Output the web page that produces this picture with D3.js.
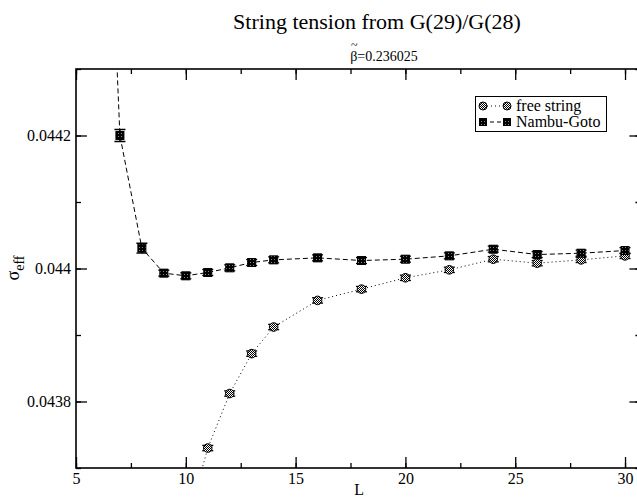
<!DOCTYPE html>
<html><head><meta charset="utf-8">
<script src="https://cdn.jsdelivr.net/npm/d3@7"></script>
</head><body style="margin:0">
<svg id="c" width="637" height="500"></svg>
<script>
const title = "String tension from G(29)/G(28)";
const subtitle = "=0.236025";
const xTicks = [5, 10, 15, 20, 25, 30];
const yTicks = [0.0438, 0.044, 0.0442];
const yTickLabels = ["0.0438", "0.044", "0.0442"];

const ngL   = [6, 7, 8, 9, 10, 11, 12, 13, 14, 16, 18, 20, 22, 24, 26, 28, 30];
const ngVal = [0.04498, 0.04420, 0.0440305, 0.043993, 0.043989, 0.043994, 0.044001, 0.044009, 0.044013, 0.044016, 0.044012, 0.044014, 0.044019, 0.044029, 0.044021, 0.044023, 0.044027];
const ngErr = [0.00002, 0.000009, 0.0000075, 0.0000045, 0.0000045, 0.0000045, 0.0000045, 0.0000045, 0.0000045, 0.0000045, 0.0000045, 0.0000045, 0.0000045, 0.0000045, 0.0000045, 0.0000045, 0.0000045];

const fsL   = [10, 11, 12, 13, 14, 16, 18, 20, 22, 24, 26, 28, 30];
const fsVal = [0.04361, 0.043730, 0.043812, 0.043872, 0.043912, 0.043952, 0.043969, 0.043986, 0.043998, 0.044014, 0.044008, 0.044013, 0.044019];
const fsErr = [0.000004, 0.000004, 0.000004, 0.000004, 0.000004, 0.000004, 0.000004, 0.000004, 0.000004, 0.000004, 0.000004, 0.000004, 0.000004];

const svg = d3.select("#c");
const font = "Liberation Serif";
const x = d3.scaleLinear().domain([5, 30.7]).range([76, 640.4]);
const y = d3.scaleLinear().domain([0.0437, 0.0443]).range([468, 69]);
const [x0, x1] = x.range(), [y0, y1] = y.range();

const defs = svg.append("defs");
defs.append("clipPath").attr("id", "clip").append("rect")
  .attr("x", x0).attr("y", y1).attr("width", x1 - x0).attr("height", y0 - y1);
const pc = defs.append("pattern").attr("id", "pc").attr("width", 2).attr("height", 2)
  .attr("patternUnits", "userSpaceOnUse");
pc.append("rect").attr("width", 2).attr("height", 2).attr("fill", "#fff");
pc.append("rect").attr("width", 1).attr("height", 1).attr("fill", "#000");
pc.append("rect").attr("x", 1).attr("y", 1).attr("width", 1).attr("height", 1).attr("fill", "#000");
const ps = defs.append("pattern").attr("id", "ps").attr("width", 3).attr("height", 3)
  .attr("patternUnits", "userSpaceOnUse");
ps.append("rect").attr("width", 3).attr("height", 3).attr("fill", "#000");
ps.append("rect").attr("x", 1).attr("y", 1).attr("width", 1).attr("height", 1).attr("fill", "#888");

function txt(sel, size) {
  return sel.style("font-family", font).style("font-size", size + "px").attr("fill", "#000");
}
function styleAxis(g) {
  g.style("font-family", font);
  g.select(".domain").remove();
  g.selectAll("line").attr("stroke", "#000").attr("stroke-width", 1.3);
  txt(g.selectAll("text"), 16);
}
const xMinor = d3.range(5, 30.7, 2.5);
const yMinor = d3.range(0.0437, 0.04431, 0.0001);

svg.append("g").attr("transform", `translate(0,${y0})`)
  .call(d3.axisBottom(x).tickValues(xMinor).tickSize(-5).tickFormat("")).call(styleAxis);
svg.append("g").attr("transform", `translate(0,${y0})`)
  .call(d3.axisBottom(x).tickValues(xTicks).tickSize(-11).tickPadding(5).tickFormat(d3.format("d"))).call(styleAxis);
svg.append("g").attr("transform", `translate(0,${y1})`)
  .call(d3.axisTop(x).tickValues(xMinor).tickSize(-5).tickFormat("")).call(styleAxis);
svg.append("g").attr("transform", `translate(0,${y1})`)
  .call(d3.axisTop(x).tickValues(xTicks).tickSize(-11).tickFormat("")).call(styleAxis);
svg.append("g").attr("transform", `translate(${x0},0)`)
  .call(d3.axisLeft(y).tickValues(yMinor).tickSize(-5).tickFormat("")).call(styleAxis);
svg.append("g").attr("transform", `translate(${x0},0)`)
  .call(d3.axisLeft(y).tickValues(yTicks).tickSize(-11).tickPadding(5).tickFormat((d, i) => yTickLabels[i])).call(styleAxis);
svg.append("g").attr("transform", `translate(${x1},0)`)
  .call(d3.axisRight(y).tickValues(yMinor).tickSize(-5).tickFormat("")).call(styleAxis);
svg.append("g").attr("transform", `translate(${x1},0)`)
  .call(d3.axisRight(y).tickValues(yTicks).tickSize(-11).tickFormat("")).call(styleAxis);

svg.append("rect").attr("x", x0).attr("y", y1).attr("width", x1 - x0).attr("height", y0 - y1)
  .attr("fill", "none").attr("stroke", "#000").attr("stroke-width", 1.6);

const plot = svg.append("g").attr("clip-path", "url(#clip)");
const ng = ngL.map((L, i) => ({L, v: ngVal[i], e: ngErr[i]}));
const fs = fsL.map((L, i) => ({L, v: fsVal[i], e: fsErr[i]}));
const line = d3.line().x(d => x(d.L)).y(d => y(d.v));

plot.append("path").datum(fs).attr("d", line).attr("fill", "none")
  .attr("stroke", "#000").attr("stroke-width", 1).attr("stroke-dasharray", "1,3");
plot.append("path").datum(ng).attr("d", line).attr("fill", "none")
  .attr("stroke", "#000").attr("stroke-width", 1).attr("stroke-dasharray", "5,3");

function errBars(data) {
  const g = plot.append("g").attr("stroke", "#000").attr("stroke-width", 1.3);
  data.forEach(d => {
    const cx = x(d.L), ya = y(d.v - d.e), yb = y(d.v + d.e);
    g.append("line").attr("x1", cx).attr("x2", cx).attr("y1", ya).attr("y2", yb);
    g.append("line").attr("x1", cx - 5.5).attr("x2", cx + 5.5).attr("y1", ya).attr("y2", ya);
    g.append("line").attr("x1", cx - 5.5).attr("x2", cx + 5.5).attr("y1", yb).attr("y2", yb);
  });
}
errBars(fs);
errBars(ng);

plot.selectAll(".fsm").data(fs).join("circle").attr("class", "fsm")
  .attr("cx", d => x(d.L)).attr("cy", d => y(d.v)).attr("r", 4.3)
  .attr("fill", "url(#pc)").attr("stroke", "#000").attr("stroke-width", 1);
plot.selectAll(".ngm").data(ng).join("rect").attr("class", "ngm")
  .attr("x", d => x(d.L) - 4).attr("y", d => y(d.v) - 4).attr("width", 8).attr("height", 8)
  .attr("fill", "url(#ps)").attr("stroke", "#000").attr("stroke-width", 1);

const lg = svg.append("g");
lg.append("rect").attr("x", 475.5).attr("y", 96.5).attr("width", 131).attr("height", 35)
  .attr("fill", "#fff").attr("stroke", "#000").attr("stroke-width", 1);
lg.append("line").attr("x1", 483).attr("x2", 507).attr("y1", 106).attr("y2", 106)
  .attr("stroke", "#000").attr("stroke-dasharray", "1,3");
lg.selectAll(".lc").data([483, 507]).join("circle").attr("cx", d => d).attr("cy", 106).attr("r", 4)
  .attr("fill", "url(#pc)").attr("stroke", "#000");
lg.append("line").attr("x1", 483).attr("x2", 507).attr("y1", 122).attr("y2", 122)
  .attr("stroke", "#000").attr("stroke-dasharray", "4,3");
lg.selectAll(".ls").data([483, 507]).join("rect").attr("x", d => d - 3.5).attr("y", 118.5)
  .attr("width", 7).attr("height", 7).attr("fill", "url(#ps)").attr("stroke", "#000");
txt(lg.append("text").attr("x", 516).attr("y", 111).text("free string"), 16);
txt(lg.append("text").attr("x", 516).attr("y", 127).text("Nambu-Goto"), 16);

txt(svg.append("text").attr("x", 377).attr("y", 29).attr("text-anchor", "middle").text(title), 22);
const st = txt(svg.append("text").attr("x", 384).attr("y", 61).attr("text-anchor", "middle"), 14);
st.append("tspan").text("β");
st.append("tspan").text(subtitle);
const bb = st.node().getBBox();
txt(svg.append("text").attr("x", bb.x + 4).attr("y", 49).attr("text-anchor", "middle").text("~"), 12);

txt(svg.append("text").attr("x", (x0 + x1) / 2 + 1).attr("y", 495).attr("text-anchor", "middle").text("L"), 16);
const yl = txt(svg.append("text").attr("transform", `translate(19,268) rotate(-90)`)
  .attr("text-anchor", "middle"), 18);
yl.append("tspan").text("σ");
yl.append("tspan").attr("dy", 5).style("font-size", "14px").text("eff");
</script>
</body></html>
